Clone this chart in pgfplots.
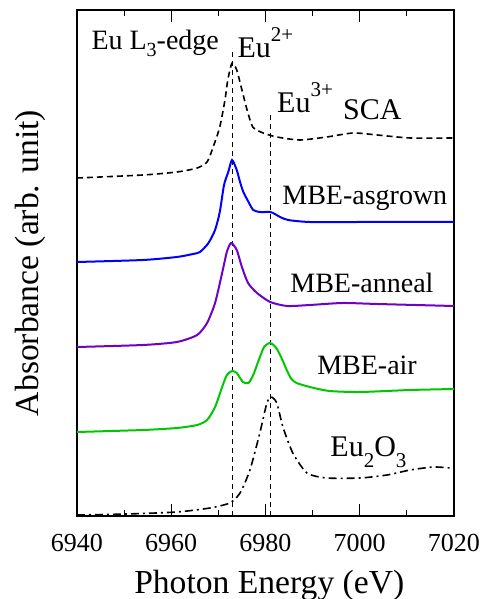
\documentclass[border=0pt]{standalone}
\usepackage{fontspec}
\setmainfont{Liberation Serif}
\usepackage{pgfplots}
\pgfplotsset{compat=1.18}
\definecolor{cblue}{RGB}{0,0,255}
\definecolor{cpurple}{RGB}{110,0,200}
\definecolor{cgreen}{RGB}{0,200,0}
\newcommand{\up}[1]{\raisebox{8pt}{\fontsize{10.5}{12}\selectfont #1}}
\newcommand{\dn}[1]{\raisebox{-5pt}{\fontsize{10.5}{12}\selectfont #1}}
\newcommand{\fs}[1]{\fontsize{#1}{#1}\selectfont}
\begin{document}
\begin{tikzpicture}
\begin{axis}[
    at={(0,0)}, anchor=south west,
    scale only axis, width=188.5pt, height=253pt,
    xmin=6940, xmax=7020, ymin=0, ymax=506,
    xtick={6940,6960,...,7020}, minor x tick num=1,
    ytick=\empty,
    tick align=inside, major tick length=6pt, minor tick length=3pt,
    axis line style={line width=0.75pt},
    every tick/.style={black, line width=0.6pt},
    /pgf/number format/assume math mode=true,
    /pgf/number format/1000 sep={},
    tick label style={font=\fs{13}},
    xticklabel style={yshift=-5.5pt},
    xlabel={Photon Energy (eV)},
    xlabel style={font=\fs{16.8}, at={(axis description cs:0.51,0)}, anchor=base, yshift=-38.5pt},
    ylabel={Absorbance (arb. unit)},
    ylabel style={font=\fs{16.8}, at={(axis description cs:-0.1034,0.5)}, anchor=base},
    clip=false,
]
% reference lines
\addplot[black, line width=0.5pt, dash pattern=on 2.5pt off 2pt] coordinates {(6972.9,0) (6972.9,468)};
\addplot[black, line width=0.5pt, dash pattern=on 2.5pt off 2pt] coordinates {(6981.0,0) (6981.0,404)};
% SCA
\addplot[black, line width=0.8pt, dash pattern=on 3pt off 2pt, smooth, tension=0.4] coordinates {
(6940,338) (6954.0,341) (6961.2,344) (6965.5,348) (6967.6,354) (6968.9,369)
(6970.3,389) (6971.4,416) (6972.0,436) (6972.9,453) (6973.9,446) (6975.0,426)
(6976.1,406) (6977.3,389) (6979.5,383) (6982.4,379) (6987.3,376) (6993.0,379)
(6998.6,383) (7003.7,381) (7010.7,378) (7019.8,378)};
% MBE-asgrown
\addplot[cblue, line width=1pt, smooth, tension=0.4] coordinates {
(6940,254) (6954.0,256) (6961.2,259) (6964.6,262) (6966.1,264) (6967.9,273)
(6969.3,286) (6970.3,304) (6971.2,331) (6972.1,344) (6972.9,356) (6973.9,346)
(6974.6,334) (6975.3,324) (6976.4,314) (6977.4,306) (6978.8,304) (6981.0,304)
(6982.0,302) (6983.1,299) (6984.8,296) (6989.4,294) (7000.1,294) (7010,294) (7020,294)};
% MBE-anneal
\addplot[cpurple, line width=1pt, smooth, tension=0.4] coordinates {
(6940,169) (6954.0,171) (6961.2,174) (6965.5,181) (6967.6,193) (6969.3,213)
(6970.8,243) (6971.8,264) (6972.7,273) (6973.9,266) (6975.0,249) (6976.3,233)
(6978.2,223) (6981.0,214) (6984.6,210) (6989.4,211) (6996.4,213) (7003.7,212)
(7020,210)};
% MBE-air
\addplot[cgreen, line width=1pt, smooth, tension=0.4] coordinates {
(6940,84) (6954.0,86) (6961.2,88) (6965.5,91) (6967.6,96) (6969.3,109)
(6970.8,129) (6971.8,141) (6972.9,145) (6973.9,143) (6975.2,134) (6976.4,133)
(6977.4,141) (6978.5,155) (6979.7,169) (6981.0,173) (6982.3,168) (6983.5,157)
(6984.6,145) (6985.5,137) (6986.6,133) (6989.4,129) (6993.6,125) (7000.1,124)
(7010.7,126) (7020,127)};
% Eu2O3
\addplot[black, line width=0.8pt, dash pattern=on 4pt off 2pt on 1pt off 2pt, smooth, tension=0.4] coordinates {
(6940,1) (6950.6,2) (6961.2,4) (6968.2,8) (6972.4,13) (6974.6,23) (6976.7,46)
(6978.8,83) (6980.3,113) (6981.2,119) (6982.4,113) (6983.7,89) (6985.8,63)
(6988.8,43) (6993.0,38) (7000.1,38) (7005.8,41) (7010.7,46) (7015.6,49) (7019.2,48)};
% annotations
\node[anchor=base, font=\fs{14}] at (axis cs:6956.6,466) {Eu L\raisebox{-3.5pt}{\fs{10}3}-edge};
\node[anchor=base west, inner sep=0pt, font=\fs{15}] at (axis cs:6974.0,458) {Eu\up{2+}};
\node[anchor=base west, inner sep=0pt, font=\fs{15}] at (axis cs:6982.4,403) {Eu\up{3+}};
\node[anchor=base west, inner sep=0pt, font=\fs{15}] at (axis cs:6996.4,396) {SCA};
\node[anchor=base west, inner sep=0pt, font=\fs{14}] at (axis cs:6983.5,311) {MBE-asgrown};
\node[anchor=base west, inner sep=0pt, font=\fs{14}] at (axis cs:6985.2,223) {MBE-anneal};
\node[anchor=base west, inner sep=0pt, font=\fs{14}] at (axis cs:6990.9,141) {MBE-air};
\node[anchor=base west, inner sep=0pt, font=\fs{15}] at (axis cs:6993.7,59) {Eu\dn{2}O\dn{3}};
\end{axis}
\pgfresetboundingbox
\path[use as bounding box] (-38.5pt,-41.5pt) rectangle (203pt,258pt);
\end{tikzpicture}
\end{document}
